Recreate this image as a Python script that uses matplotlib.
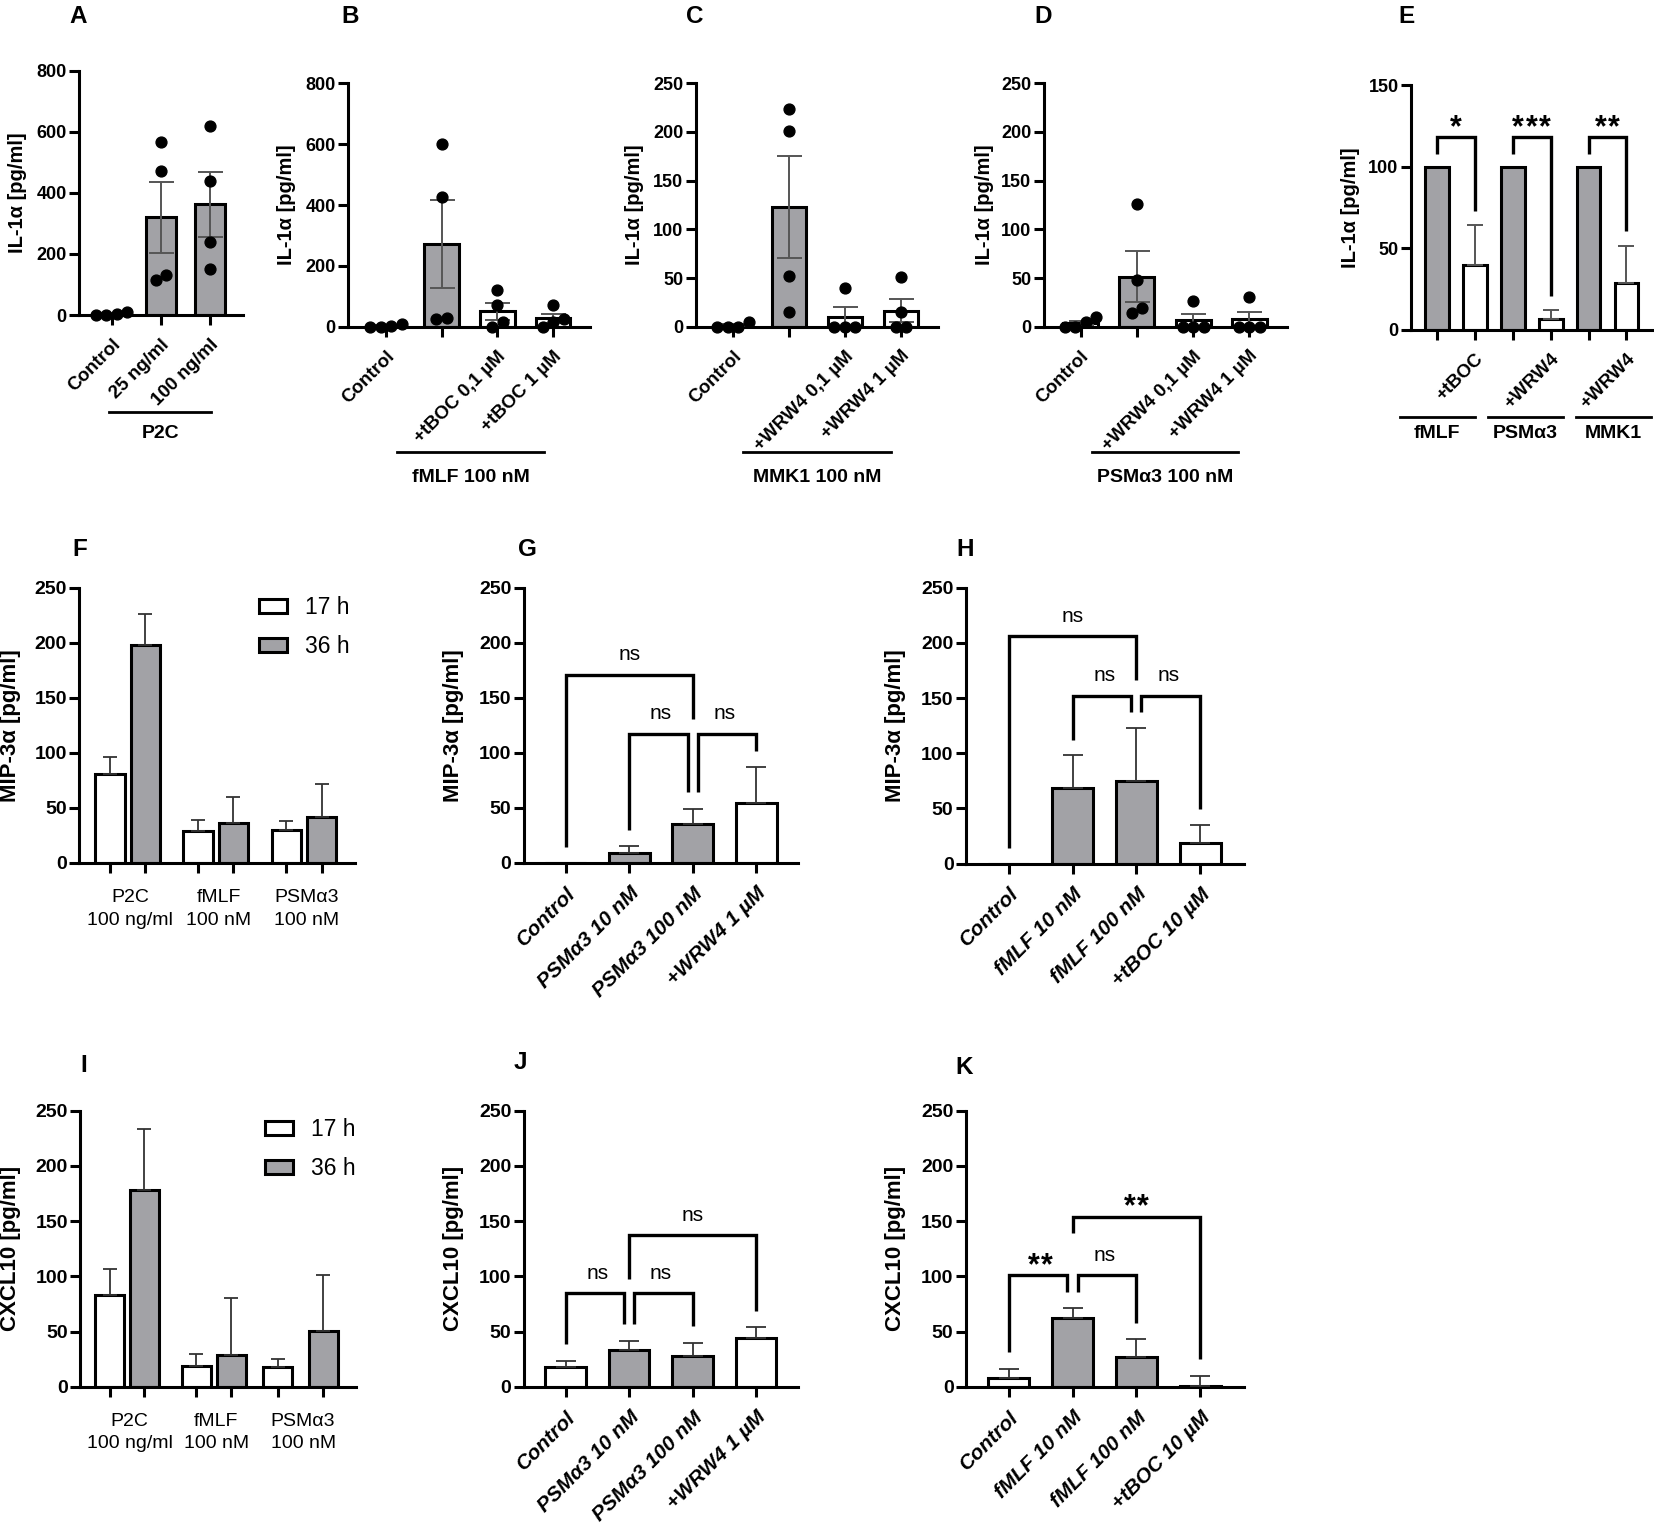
import numpy as np
import matplotlib
matplotlib.use("Agg")
import matplotlib.pyplot as plt
from matplotlib.transforms import blended_transform_factory

plt.rcParams['font.family'] = ['Liberation Sans', 'DejaVu Sans']
plt.rcParams['font.weight'] = 'bold'
plt.rcParams['axes.labelweight'] = 'bold'

# ---------------- data ----------------
# A: IL-1a, P2C
a_labels = ['Control', '25 ng/ml', '100 ng/ml']
a_mean = [3, 320, 362]
a_sem = [2, 117, 105]
a_pts = [[0, 10, 0, 3], [565, 470, 115, 130], [620, 440, 240, 150]]
a_gray = [False, True, True]

# B: IL-1a, fMLF 100 nM
b_labels = ['Control', '', '+tBOC 0,1 µM', '+tBOC 1 µM']
b_mean = [3, 272, 50, 28]
b_sem = [2, 145, 27, 15]
b_pts = [[0, 8, 0, 3], [600, 425, 25, 30], [120, 71, 0, 16], [70, 25, 0, 15]]
b_gray = [False, True, False, False]

# C: IL-1a, MMK1 100 nM
c_labels = ['Control', '', '+WRW4 0,1 µM', '+WRW4 1 µM']
c_mean = [1.5, 123, 10, 16.5]
c_sem = [1.2, 52.5, 10.5, 12]
c_pts = [[0, 5, 0, 0], [224, 201, 52, 15], [40, 0, 0, 0], [51, 15, 0, 0]]
c_gray = [False, True, False, False]

# D: IL-1a, PSMa3 100 nM
d_labels = ['Control', '', '+WRW4 0,1 µM', '+WRW4 1 µM']
d_mean = [3.75, 51.5, 6.5, 7.75]
d_sem = [2.5, 26, 7, 7.5]
d_pts = [[0, 5, 10, 0], [126, 48, 14, 19], [26, 0, 0, 0], [31, 0, 0, 0]]
d_gray = [False, True, False, False]

# E: IL-1a normalised
e_labels = ['', '+tBOC', '', '+WRW4', '', '+WRW4']
e_groups = ['fMLF', 'PSMα3', 'MMK1']
e_mean = [100, 40, 100, 7, 100, 29]
e_err = [0, 24, 0, 5, 0, 22.5]
e_gray = [True, False, True, False, True, False]
e_sig = ['*', '***', '**']

# F / I: time course
time_groups = [('P2C', '100 ng/ml'), ('fMLF', '100 nM'), ('PSMα3', '100 nM')]
f_17h = [80.6, 29, 30]
f_17h_err = [15.2, 10, 8]
f_36h = [198, 36, 41.5]
f_36h_err = [28, 24, 30.5]
i_17h = [83, 18.7, 17.5]
i_17h_err = [24, 11.3, 7.3]
i_36h = [178, 28.7, 50.8]
i_36h_err = [55, 52, 50.2]

# G / J: PSMa3 series
psm_labels = ['Control', 'PSMα3 10 nM', 'PSMα3 100 nM', '+WRW4 1 µM']
g_mean = [0, 8.5, 35, 54]
g_err = [0, 6.5, 14, 33]
j_mean = [17.5, 33, 28, 44]
j_err = [5.5, 8, 12, 10]
# H / K: fMLF series
fmlf_labels = ['Control', 'fMLF 10 nM', 'fMLF 100 nM', '+tBOC 10 µM']
h_mean = [0, 68.7, 74.7, 18.4]
h_err = [0, 29.3, 48.3, 16.2]
k_mean = [8, 62, 27, 1]
k_err = [7.7, 9.6, 16, 9]
four_gray = [False, True, True, False]

# comparisons: (i, j, top, left end, right end, label)
g_cmp = [(0, 2, 170.6, 14.5, 131, 'ns'), (1, 2, 117, 30, 64, 'ns'), (2, 3, 117, 64, 102, 'ns')]
h_cmp = [(0, 2, 206, 14.5, 166.6, 'ns'), (1, 2, 152, 112, 137, 'ns'), (2, 3, 152, 137, 49, 'ns')]
j_cmp = [(0, 1, 84.6, 38.7, 56.5, 'ns'), (1, 2, 84.6, 56.5, 55, 'ns'), (1, 3, 137, 98, 69, 'ns')]
k_cmp = [(0, 1, 101, 31, 86, '**'), (1, 2, 101, 86, 58, 'ns'), (1, 3, 154, 139.6, 24.8, '**')]

# ---------------- helpers ----------------
GRAY = '#a2a2a6'
W, H = 1654, 1523
fig = plt.figure(figsize=(W / 100, H / 100), dpi=100)


def fy(py):
    return 1 - py / H


def add_ax(l, r, t, b):
    ax = fig.add_axes([l / W, 1 - b / H, (r - l) / W, (b - t) / H])
    ax.patch.set_alpha(0)
    return ax


def base(ax, xlim, ymax, step, fs):
    ax.set_xlim(*xlim)
    ax.set_ylim(0, ymax)
    ax.set_yticks(np.arange(0, ymax + 1, step))
    for s in ('top', 'right'):
        ax.spines[s].set_visible(False)
    for s in ('left', 'bottom'):
        ax.spines[s].set_linewidth(2.2)
    ax.tick_params(axis='both', width=2.2, length=7, labelsize=fs)
    ax.tick_params(axis='y', pad=2)
    ax.tick_params(axis='x', pad=8)


def ylab(ax, text, fs, x_px, l, r):
    ax.set_ylabel(text, fontsize=fs)
    ax.yaxis.set_label_coords((x_px - l) / (r - l), 0.5)
    ax.yaxis.label.set_va('center')


def rot_labels(ax, labels, fs, italic=False):
    ax.set_xticks(range(len(labels)))
    ax.set_xticklabels(labels, rotation=45, ha='right', va='top', rotation_mode='anchor',
                       fontsize=fs, style='italic' if italic else 'normal')


def letter(x, y, s):
    fig.text(x / W, fy(y), s, fontsize=17.5, ha='center', va='center')


def group_line(ax, x0, x1, y_line, label, y_text, fs=14):
    tr = blended_transform_factory(ax.transData, fig.transFigure)
    ax.plot([x0, x1], [fy(y_line)] * 2, transform=tr, color='k', lw=2, clip_on=False)
    ax.text((x0 + x1) / 2, fy(y_text), label, transform=tr, ha='center', va='center', fontsize=fs)


def swarm(vals, thr, w):
    vals = np.asarray(vals, float)
    order = np.argsort(vals, kind='stable')
    v = vals[order]
    groups = [[0]]
    for i in range(1, len(v)):
        if v[i] - v[groups[-1][-1]] < thr:
            groups[-1].append(i)
        else:
            groups.append([i])
    offs = np.zeros(len(v))
    for g in groups:
        n = len(g)
        for k, i in enumerate(g):
            offs[i] = (k - (n - 1) / 2) * w
    out = np.zeros(len(v))
    out[order] = offs
    return out


def bracket(ax, x1, x2, top, yl, yr, label, dxl=0, dxr=0):
    ax.plot([x1 + dxl, x1 + dxl, x2 + dxr, x2 + dxr], [yl, top, top, yr], color='k', lw=2.4,
            clip_on=False, solid_joinstyle='miter', solid_capstyle='butt', zorder=5)
    xm = (x1 + x2) / 2
    if label == 'ns':
        ax.annotate(label, (xm, top), xytext=(0, 10.5), textcoords='offset points',
                    ha='center', va='baseline', fontsize=15, fontweight='normal')
    else:
        # asterisks spaced like the original (about 13 px apart)
        n = len(label)
        for k in range(n):
            ax.annotate('*', (xm, top), xytext=((k - (n - 1) / 2) * 9.6, 1.0),
                        textcoords='offset points', ha='center', va='baseline',
                        fontsize=22, fontweight='bold')


def dot_panel(box, xlim, ymax, step, labels, mean, sem, pts, gray, ylabel, ylx):
    l, r, t, b = box
    ax = add_ax(l, r, t, b)
    base(ax, xlim, ymax, step, 13)
    x = np.arange(len(mean))
    ax.bar(x, mean, width=0.62, color=[GRAY if g else 'white' for g in gray],
           edgecolor='k', lw=2.2, zorder=2)
    ax.errorbar(x, mean, yerr=sem, fmt='none', ecolor='#555555', elinewidth=1.4,
                capsize=9, capthick=1.4, zorder=3)
    px_unit = (r - l) / (xlim[1] - xlim[0])
    thr = 10.5 * ymax / (b - t)
    for i, p in enumerate(pts):
        off = swarm(p, thr, 10.5 / px_unit)
        ax.plot(i + off, p, 'o', color='k', ms=7.8, clip_on=False, zorder=4)
    rot_labels(ax, labels, 13.5)
    ylab(ax, ylabel, 14.5, ylx, l, r)
    return ax


# ---------------- row 1 ----------------
il = 'IL-1α [pg/ml]'
ax = dot_panel((79.3, 242.7, 70.7, 315), (-0.66, 2.665), 800, 200, a_labels, a_mean, a_sem,
               a_pts, a_gray, il, 18)
group_line(ax, -0.05, 2.03, 412, 'P2C', 433)
letter(78.5, 16.7, 'A')

ax = dot_panel((348, 590, 83.3, 326.7), (-0.68, 3.66), 800, 200, b_labels, b_mean, b_sem,
               b_pts, b_gray, il, 287)
group_line(ax, 0.2, 2.84, 452, 'fMLF 100 nM', 477)
letter(350, 16.7, 'B')

ax = dot_panel((695.7, 938.4, 83.3, 326.7), (-0.666, 3.67), 250, 50, c_labels, c_mean, c_sem,
               c_pts, c_gray, il, 634)
group_line(ax, 0.18, 2.82, 452, 'MMK1 100 nM', 478)
letter(695, 16.7, 'C')

ax = dot_panel((1044, 1287, 83.3, 326.7), (-0.65, 3.67), 250, 50, d_labels, d_mean, d_sem,
               d_pts, d_gray, il, 984)
group_line(ax, 0.2, 2.8, 452, 'PSMα3 100 nM', 478)
letter(1043, 16.7, 'D')

# E
l, r, t, b = 1411, 1653, 85, 330
ax = add_ax(l, r, t, b)
base(ax, (-0.68, 5.7), 150, 50, 13)
xe = np.arange(len(e_mean))
ax.bar(xe, e_mean, width=0.63, color=[GRAY if g else 'white' for g in e_gray],
       edgecolor='k', lw=2.2, zorder=2)
m = np.array(e_err) > 0
ax.errorbar(xe[m], np.array(e_mean)[m], yerr=[np.zeros(m.sum()), np.array(e_err)[m]],
            fmt='none', ecolor='#555555', elinewidth=1.4, capsize=6, capthick=1.4, zorder=3)
for k, s in enumerate(e_sig):
    i = 2 * k
    bracket(ax, i, i + 1, 118, 108, e_mean[i + 1] + e_err[i + 1] + 9, s)
rot_labels(ax, e_labels, 13.5)
ylab(ax, il, 14.5, 1351, l, r)
for k, g in enumerate(e_groups):
    x0 = 2.32 * k - 0.97
    group_line(ax, x0, x0 + 1.97, 417, g, 434)
letter(1407, 16.7, 'E')


# ---------------- rows 2 / 3 ----------------
def time_panel(box, xlim, m17, e17, m36, e36, offs, ylabel, ylx, y_lab1, y_lab2, leg_x, leg_y):
    l, r, t, b = box
    ax = add_ax(l, r, t, b)
    base(ax, xlim, 250, 50, 14)
    xg = np.arange(len(m17))
    off = np.array(offs)
    bw = 0.335
    b17 = ax.bar(xg - off, m17, width=bw, color='white', edgecolor='k', lw=2.2, zorder=2)
    b36 = ax.bar(xg + off, m36, width=bw, color=GRAY, edgecolor='k', lw=2.2, zorder=2)
    z = np.zeros(len(xg))
    ax.errorbar(xg - off, m17, yerr=[z, e17], fmt='none', ecolor='#333333', elinewidth=1.3,
                capsize=5, capthick=1.3, zorder=3)
    ax.errorbar(xg + off, m36, yerr=[z, e36], fmt='none', ecolor='#333333', elinewidth=1.3,
                capsize=5, capthick=1.3, zorder=3)
    ax.set_xticks(np.concatenate([xg - off, xg + off]))
    ax.set_xticklabels([])
    tr = blended_transform_factory(ax.transData, fig.transFigure)
    for i, (g1, g2) in enumerate(time_groups):
        ax.text(i + 0.03, fy(y_lab1), g1, transform=tr, ha='center', va='center', fontsize=14,
                fontweight='normal')
        ax.text(i + 0.03, fy(y_lab2), g2, transform=tr, ha='center', va='center', fontsize=14,
                fontweight='normal')
    ax.legend([b17, b36], ['17 h', '36 h'], loc='upper left',
              bbox_to_anchor=((leg_x - l) / (r - l), (b - leg_y) / (b - t)),
              frameon=False, handlelength=1.2, handleheight=0.6, handletextpad=0.8,
              labelspacing=0.7, borderpad=0, borderaxespad=0,
              prop={'size': 16.5, 'weight': 'normal'})
    ylab(ax, ylabel, 16, ylx, l, r)
    return ax


def cmp_panel(box, xlim, labels, mean, err, gray, cmps, ylabel, ylx):
    l, r, t, b = box
    ax = add_ax(l, r, t, b)
    base(ax, xlim, 250, 50, 14)
    x = np.arange(len(mean))
    ax.bar(x, mean, width=0.64, color=[GRAY if g else 'white' for g in gray],
           edgecolor='k', lw=2.2, zorder=2)
    mk = np.array(err) > 0
    ax.errorbar(x[mk], np.array(mean)[mk], yerr=[np.zeros(mk.sum()), np.array(err)[mk]],
                fmt='none', ecolor='#333333', elinewidth=1.3, capsize=7, capthick=1.3, zorder=3)
    # legs sharing a bar are nudged apart, the wide bracket keeps the centre
    for i, j, top, yl, yr, lab in cmps:
        dxl = dxr = 0
        if j - i == 1:
            for i2, j2, *_ in cmps:
                if j2 - i2 == 1 and i2 == j:
                    dxr = -0.08
                if j2 - i2 == 1 and j2 == i:
                    dxl = 0.08
        bracket(ax, i, j, top, yl, yr, lab, dxl, dxr)
    rot_labels(ax, labels, 15, italic=True)
    ylab(ax, ylabel, 16, ylx, l, r)
    return ax


mip = 'MIP-3α [pg/ml]'
cx = 'CXCL10 [pg/ml]'
time_panel((79.3, 355, 587.7, 862.7), (-0.55, 2.58), f_17h, f_17h_err, f_36h, f_36h_err,
           [0.2, 0.2, 0.2], mip, 11, 898, 920, 259, 596)
letter(80, 549, 'F')
cmp_panel((523.8, 798.3, 587.7, 862.7), (-0.66, 3.66), psm_labels, g_mean, g_err, four_gray,
          g_cmp, mip, 454)
letter(527, 549, 'G')
cmp_panel((966, 1243.5, 587.7, 863.5), (-0.67, 3.68), fmlf_labels, h_mean, h_err, four_gray,
          h_cmp, mip, 896)
letter(965, 549, 'H')

time_panel((80.3, 356, 1110.7, 1386.7), (-0.54, 2.64), i_17h, i_17h_err, i_36h, i_36h_err,
           [0.2, 0.2, 0.265], cx, 11, 1421.7, 1443, 265, 1118)
letter(84, 1065, 'I')
cmp_panel((523.8, 798, 1110.7, 1386.7), (-0.66, 3.66), psm_labels, j_mean, j_err,
          [False, True, True, False], j_cmp, cx, 453)
letter(520.6, 1062.5, 'J')
cmp_panel((966, 1243.5, 1110.7, 1386.7), (-0.67, 3.68), fmlf_labels, k_mean, k_err, four_gray,
          k_cmp, cx, 896)
letter(964, 1067, 'K')

fig.savefig('out.png', dpi=100, facecolor='white')
